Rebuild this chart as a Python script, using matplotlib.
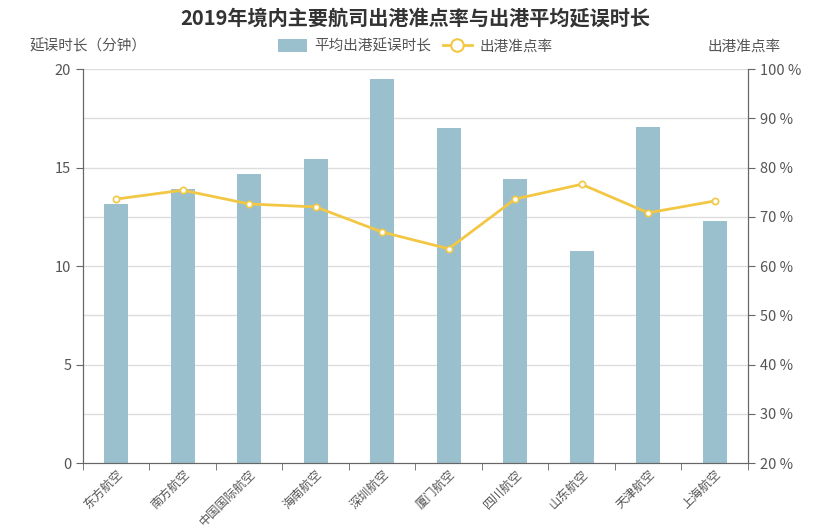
import numpy as np
import matplotlib.pyplot as plt
from matplotlib.ticker import FixedLocator
from matplotlib.lines import Line2D
from matplotlib.patches import Patch

plt.rcParams['font.family'] = ['Noto Sans CJK SC', 'DejaVu Sans']

airlines = ['东方航空', '南方航空', '中国国际航空', '海南航空', '深圳航空',
            '厦门航空', '四川航空', '山东航空', '天津航空', '上海航空']
delay_minutes = [13.15, 13.9, 14.67, 15.43, 19.5, 17.0, 14.42, 10.76, 17.06, 12.28]
ontime_rate = [73.6, 75.4, 72.6, 72.0, 66.9, 63.5, 73.6, 76.6, 70.8, 73.2]

BAR_COLOR = '#9bc0cd'
LINE_COLOR = '#f2c744'
AXIS_COLOR = '#666666'
TEXT_COLOR = '#555555'

fig = plt.figure(figsize=(8.3, 5.31), dpi=100)
ax = fig.add_axes([0.1, 0.128, 0.801, 0.742])
ax2 = ax.twinx()

x = np.arange(len(airlines))
ax.bar(x, delay_minutes, width=0.36, color=BAR_COLOR, zorder=2)
ax.set_xlim(-0.5, len(airlines) - 0.5)
ax.set_ylim(0, 20)
ax.set_yticks([0, 5, 10, 15, 20])

ax2.plot(x, ontime_rate, color=LINE_COLOR, lw=2, marker='o', ms=4.5,
         mfc='white', mec=LINE_COLOR, mew=1.2, zorder=3)
ax2.set_ylim(20, 100)
ax2.set_yticks(range(20, 101, 10))
ax2.set_yticklabels([f'{v} %' for v in range(20, 101, 10)])

# grid lines follow right-axis ticks
for v in range(30, 101, 10):
    ax.axhline((v - 20) / 4.0, color='#dddddd', lw=1, zorder=0)

ax.set_xticks(x)
ax.set_xticklabels(airlines, rotation=45, ha='right', rotation_mode='anchor')
ax.tick_params(axis='x', length=0, pad=3, labelsize=8.8, labelcolor=TEXT_COLOR)
ax.xaxis.set_minor_locator(FixedLocator(np.arange(-0.5, len(airlines), 1)))
ax.tick_params(axis='x', which='minor', length=5, color=AXIS_COLOR)
ax.tick_params(axis='y', length=5, color=AXIS_COLOR, labelsize=10.5, labelcolor=TEXT_COLOR)
ax2.tick_params(axis='y', length=5, color=AXIS_COLOR, labelsize=10.5, labelcolor=TEXT_COLOR)

for a in (ax, ax2):
    a.spines['top'].set_visible(False)
    for s in ('left', 'right', 'bottom'):
        a.spines[s].set_color(AXIS_COLOR)

fig.text(0.5, 0.965, '2019年境内主要航司出港准点率与出港平均延误时长',
         ha='center', va='center', fontsize=14.5, fontweight='bold', color='#333333')
fig.text(0.036, 0.913, '延误时长（分钟）', ha='left', va='center', fontsize=10.5, color=TEXT_COLOR)
fig.text(0.94, 0.913, '出港准点率', ha='right', va='center', fontsize=10.5, color=TEXT_COLOR)

handles = [Patch(facecolor=BAR_COLOR, edgecolor='none'),
           Line2D([0], [0], color=LINE_COLOR, lw=2, marker='o', ms=9,
                  mfc='white', mec=LINE_COLOR, mew=1.5)]
fig.legend(handles, ['平均出港延误时长', '出港准点率'], loc='center',
           bbox_to_anchor=(0.5, 0.913), ncol=2, frameon=False, fontsize=10.5,
           labelcolor=TEXT_COLOR, handlelength=2.0, handleheight=1.0,
           columnspacing=0.8, handletextpad=0.5)

fig.savefig('out.png', dpi=100)
